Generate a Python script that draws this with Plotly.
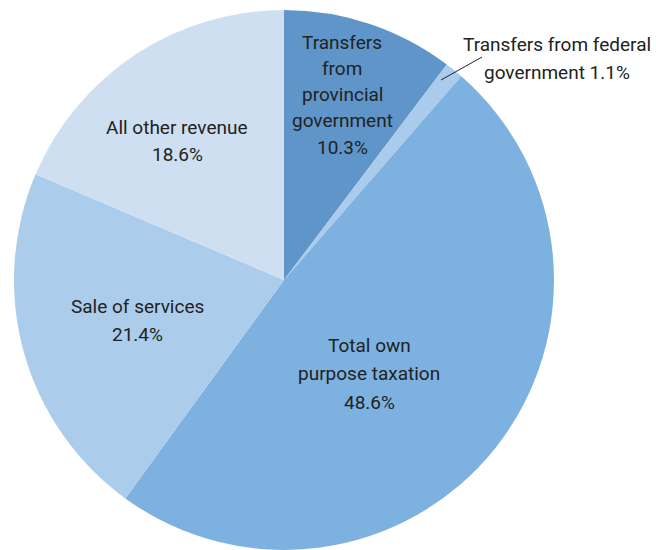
import plotly.graph_objects as go

categories = ["Transfers from provincial government", "Transfers from federal government",
              "Total own purpose taxation", "Sale of services", "All other revenue"]
values = [10.3, 1.1, 48.6, 21.4, 18.6]
colors = ["#6095c9", "#aacbec", "#7db2e0", "#abcceb", "#cedff2"]

label_lines = [
    ["Transfers", "from", "provincial", "government", "10.3%"],
    ["Transfers from federal", "government 1.1%"],
    ["Total own", "purpose taxation", "48.6%"],
    ["Sale of services", "21.4%"],
    ["All other revenue", "18.6%"],
]
# label centre (x px, first line y px, line spacing px)
label_pos = [(342, 42, 26.3), (557, 45, 28), (369, 345, 28.5), (137, 306, 28), (177, 127, 28)]

W, H = 656, 550
fig = go.Figure(go.Pie(
    labels=categories, values=values, sort=False, direction="clockwise", rotation=0,
    marker=dict(colors=colors, line=dict(width=0)),
    textinfo="none", hoverinfo="label+percent",
    domain=dict(x=[14 / W, 554 / W], y=[0, 540 / H]),
    showlegend=False,
))

ann = []
for lines, (cx, cy, ls) in zip(label_lines, label_pos):
    for i, t in enumerate(lines):
        ann.append(dict(x=cx / W, y=1 - (cy + i * ls) / H, xref="paper", yref="paper",
                        text=t, showarrow=False, xanchor="center", yanchor="middle",
                        font=dict(family="Roboto", size=19, color="#222222")))

fig.update_layout(
    width=W, height=H, margin=dict(l=0, r=0, t=0, b=0),
    paper_bgcolor="white", plot_bgcolor="white",
    annotations=ann,
    shapes=[dict(type="line", xref="paper", yref="paper",
                 x0=441 / W, y0=1 - 80 / H, x1=482 / W, y1=1 - 57 / H,
                 line=dict(color="#222222", width=1))],
)
fig.write_html("out.html", config={"displayModeBar": False},
               post_script="document.body.style.margin='0';document.body.style.overflow='hidden';")
